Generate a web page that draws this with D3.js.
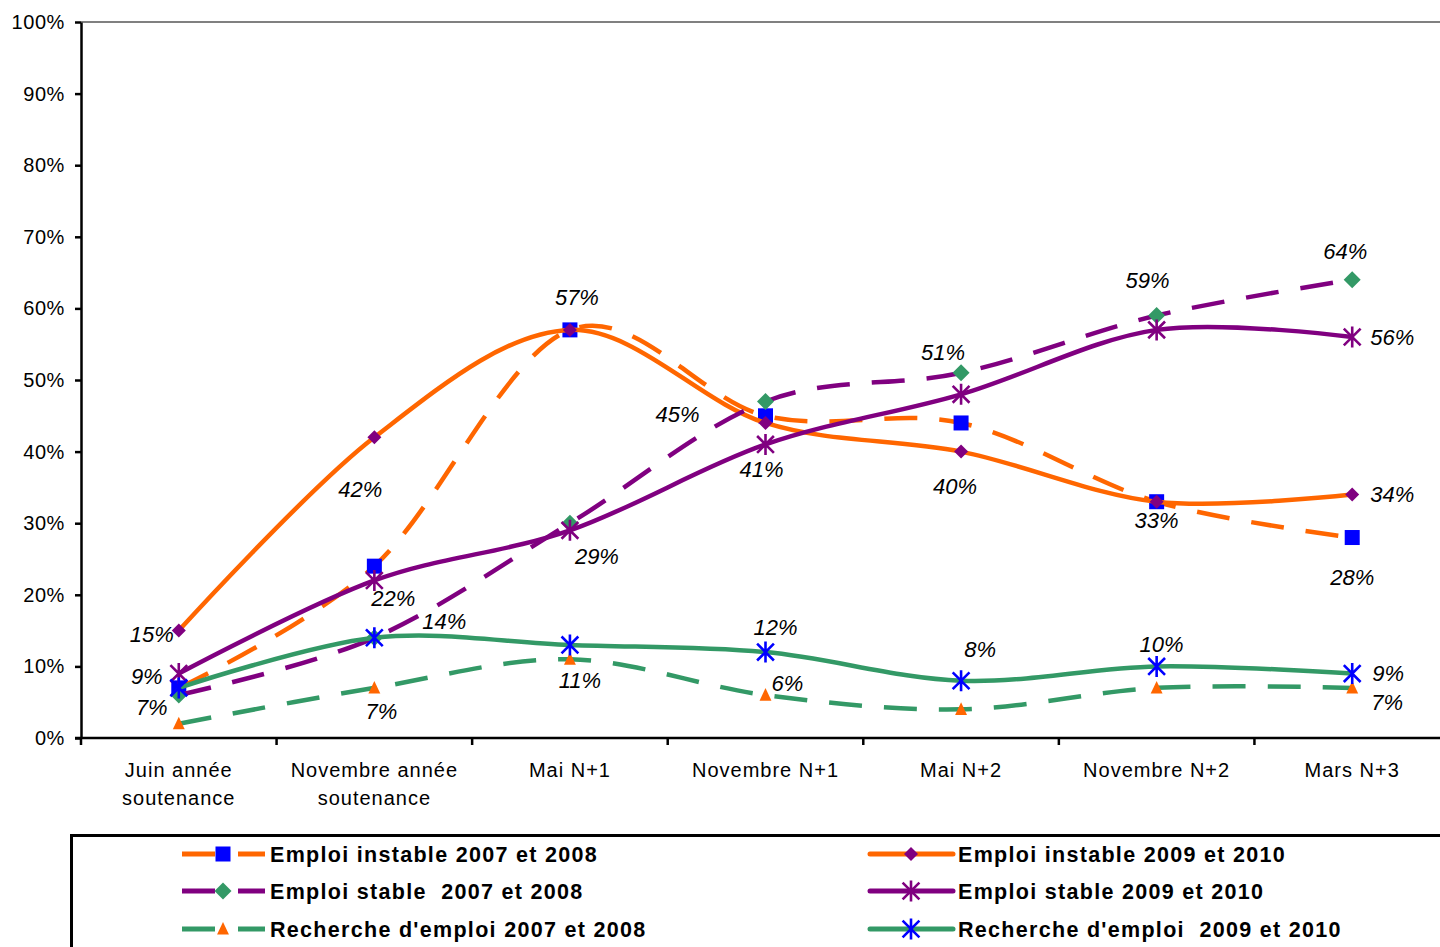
<!DOCTYPE html>
<html>
<head>
<meta charset="utf-8">
<script src="https://cdn.jsdelivr.net/npm/d3@7"></script>
<style>
  html, body { margin: 0; padding: 0; background: #fff; overflow: hidden; }
  svg { display: block; font-family: "Liberation Sans", Arial, sans-serif; }
</style>
</head>
<body>
<svg id="chart" width="1440" height="947"></svg>
<script>
// ---------- DATA ----------
const categories = ["Juin année\nsoutenance", "Novembre année\nsoutenance", "Mai N+1", "Novembre N+1", "Mai N+2", "Novembre N+2", "Mars N+3"];
const yTicks = [0, 10, 20, 30, 40, 50, 60, 70, 80, 90, 100];

const instable2007 = [7, 24, 57, 45, 44, 33, 28];
const instable2009 = [15, 42, 57, 44, 40, 33, 34];
const stable2007 = [6, 14, 30, 47, 51, 59, 64];
const stable2009 = [9, 22, 29, 41, 48, 57, 56];
const recherche2007 = [2, 7, 11, 6, 4, 7, 7];
const recherche2009 = [7, 14, 13, 12, 8, 10, 9];

const seriesNames = ["Emploi instable 2007 et 2008", "Emploi instable 2009 et 2010", "Emploi stable  2007 et 2008", "Emploi stable 2009 et 2010", "Recherche d'emploi 2007 et 2008", "Recherche d'emploi  2009 et 2010"];

// ---------- STYLE ----------
const ORANGE = "#FF6600", PURPLE = "#800080", GREEN = "#339966", BLUE = "#0000FF";
const series = [
  { name: seriesNames[0], values: instable2007, line: ORANGE, dashed: true, marker: "square", mcolor: BLUE, col: 0, row: 0 },
  { name: seriesNames[1], values: instable2009, line: ORANGE, dashed: false, marker: "diamondS", mcolor: PURPLE, col: 1, row: 0 },
  { name: seriesNames[2], values: stable2007, line: PURPLE, dashed: true, marker: "diamond", mcolor: GREEN, col: 0, row: 1 },
  { name: seriesNames[3], values: stable2009, line: PURPLE, dashed: false, marker: "star", mcolor: PURPLE, col: 1, row: 1 },
  { name: seriesNames[4], values: recherche2007, line: GREEN, dashed: true, marker: "triangle", mcolor: ORANGE, col: 0, row: 2 },
  { name: seriesNames[5], values: recherche2009, line: GREEN, dashed: false, marker: "star", mcolor: BLUE, col: 1, row: 2 }
];

// label placement: [series index, point index, dx, dy] (offset of label centre from point)
const labelPlacement = [
  [1, 0, -27, 3], [3, 0, -32, 3], [5, 0, -27, 19],
  [1, 1, -14, 52], [3, 1, 19, 18], [2, 1, 70, -17], [4, 1, 7, 23],
  [1, 2, 7, -33], [3, 2, 27, 26], [4, 2, 10, 21],
  [0, 3, -88, -2], [3, 3, -4, 25], [5, 3, 10, -25], [4, 3, 22, -12],
  [2, 4, -18, -21], [1, 4, -6, 34], [5, 4, 19, -32],
  [2, 5, -9, -35], [1, 5, 0, 18], [5, 5, 5, -22],
  [2, 6, -7, -29], [3, 6, 40, 0], [1, 6, 40, 0], [0, 6, 0, 40], [5, 6, 36, 0], [4, 6, 35, 14]
];

// ---------- LAYOUT ----------
const svg = d3.select("#chart");
const plotLeft = 81, plotRight = 1450, plotTop = 22, plotBottom = 738;

const xBand = d3.scaleBand().domain(categories).range([plotLeft, plotRight]);
const x = d => xBand(d) + xBand.bandwidth() / 2;
const y = d3.scaleLinear().domain([0, 100]).range([plotBottom, plotTop]);

// top border of plot area (gray)
svg.append("line")
  .attr("x1", plotLeft).attr("x2", 1440)
  .attr("y1", y(100)).attr("y2", y(100))
  .attr("stroke", "#808080").attr("stroke-width", 2);

// Y axis
const yAxis = svg.append("g")
  .attr("transform", `translate(${plotLeft},0)`)
  .call(d3.axisLeft(y).tickValues(yTicks).tickFormat(d => d + "%").tickSize(6).tickSizeOuter(0).tickPadding(10));
yAxis.select(".domain").attr("stroke", "#000").attr("stroke-width", 2.5);
yAxis.selectAll(".tick line").attr("stroke", "#000").attr("stroke-width", 2.5);
yAxis.selectAll(".tick text").attr("fill", "#000").style("font-size", "20px").style("letter-spacing", "0.6px")
  .attr("font-family", "Liberation Sans, Arial, sans-serif");

// X axis
svg.append("line")
  .attr("x1", plotLeft - 6).attr("x2", 1440)
  .attr("y1", plotBottom).attr("y2", plotBottom)
  .attr("stroke", "#000").attr("stroke-width", 2.5);
const edges = categories.map(c => xBand(c)).concat([xBand.range()[1]]);
svg.append("g").selectAll("line").data(edges).join("line")
  .attr("x1", d => d).attr("x2", d => d)
  .attr("y1", plotBottom).attr("y2", plotBottom + 7)
  .attr("stroke", "#000").attr("stroke-width", 2.5);
const xl = svg.append("g").selectAll("text").data(categories).join("text")
  .attr("x", d => x(d))
  .attr("y", 770)
  .attr("text-anchor", "middle")
  .style("font-size", "20px")
  .style("letter-spacing", "1px")
  .attr("fill", "#000");
xl.each(function (d) {
  const lines = d.split("\n");
  const t = d3.select(this);
  lines.forEach((ln, i) => {
    t.append("tspan").attr("x", x(d)).attr("y", 770 + i * 28).attr("dy", "0.35em").text(ln);
  });
});

// ---------- MARKERS ----------
function drawMarker(g, type, color, cx, cy, scale) {
  const s = scale || 1;
  if (type === "square") {
    const h = 7.5 * s;
    g.append("rect").attr("x", cx - h).attr("y", cy - h).attr("width", 2 * h).attr("height", 2 * h).attr("fill", color);
  } else if (type === "diamond" || type === "diamondS") {
    const h = (type === "diamond" ? 8.5 : 7) * s;
    g.append("path").attr("d", `M${cx},${cy - h}L${cx + h},${cy}L${cx},${cy + h}L${cx - h},${cy}Z`).attr("fill", color);
  } else if (type === "triangle") {
    const h = 7 * s;
    g.append("path").attr("d", `M${cx},${cy - h}L${cx + h * 0.85},${cy + h * 0.8}L${cx - h * 0.85},${cy + h * 0.8}Z`).attr("fill", color);
  } else if (type === "star") {
    const r = 10.5 * s, a = r * 0.8;
    g.append("path")
      .attr("d", `M${cx},${cy - r}V${cy + r}M${cx - a},${cy - a}L${cx + a},${cy + a}M${cx - a},${cy + a}L${cx + a},${cy - a}`)
      .attr("stroke", color).attr("stroke-width", 2.6).attr("fill", "none");
  }
}

// ---------- LINES ----------
const lineGen = d3.line()
  .x((d, i) => x(categories[i]))
  .y(d => y(d))
  .curve(d3.curveCardinal.tension(0));

const plot = svg.append("g");
series.forEach(s => {
  plot.append("path")
    .attr("d", lineGen(s.values))
    .attr("fill", "none")
    .attr("stroke", s.line)
    .attr("stroke-width", 4.5)
    .attr("stroke-linejoin", "round")
    .attr("stroke-dasharray", s.dashed ? "33,22" : null);
  const mg = plot.append("g");
  s.values.forEach((v, i) => drawMarker(mg, s.marker, s.mcolor, x(categories[i]), y(v)));
});

// ---------- DATA LABELS ----------
svg.append("g").selectAll("text").data(labelPlacement).join("text")
  .attr("x", d => x(categories[d[1]]) + d[2])
  .attr("y", d => y(series[d[0]].values[d[1]]) + d[3])
  .attr("text-anchor", "middle")
  .attr("dy", "0.36em")
  .style("font-size", "22px")
  .style("font-style", "italic")
  .attr("fill", "#000")
  .text(d => series[d[0]].values[d[1]] + "%");

// ---------- LEGEND ----------
const leg = svg.append("g");
leg.append("rect")
  .attr("x", 71.5).attr("y", 835.5).attr("width", 1420).attr("height", 200)
  .attr("fill", "#fff").attr("stroke", "#000").attr("stroke-width", 3);
const colX = [182, 870], rowY = [854, 891, 929];
series.forEach(s => {
  const lx = colX[s.col], ly = rowY[s.row];
  leg.append("line")
    .attr("x1", lx).attr("x2", lx + 83).attr("y1", ly).attr("y2", ly)
    .attr("stroke", s.line).attr("stroke-width", 5)
    .attr("stroke-linecap", s.dashed ? "butt" : "round")
    .attr("stroke-dasharray", s.dashed ? "33,23" : null);
  drawMarker(leg, s.marker, s.mcolor, lx + 41, ly);
  leg.append("text")
    .attr("x", lx + 88).attr("y", ly).attr("dy", "0.36em")
    .style("font-size", "21.5px").style("font-weight", "bold").style("letter-spacing", "1.3px")
    .style("white-space", "pre")
    .attr("xml:space", "preserve")
    .attr("fill", "#000")
    .text(s.name);
});
</script>
</body>
</html>
